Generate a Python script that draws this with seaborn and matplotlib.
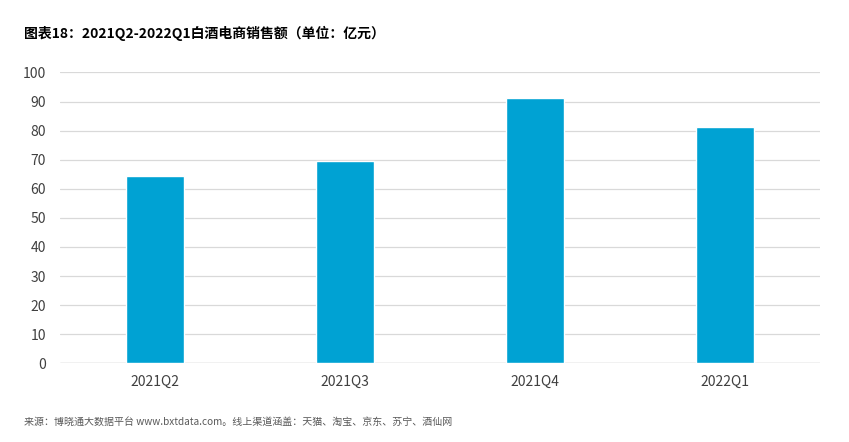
import pandas as pd
import matplotlib
matplotlib.use("Agg")
import matplotlib.pyplot as plt
import seaborn as sns

# data
quarters = ["2021Q2", "2021Q3", "2021Q4", "2022Q1"]
sales = [64.4, 69.5, 91.2, 81.3]
y_ticks = [0, 10, 20, 30, 40, 50, 60, 70, 80, 90, 100]

title_text = "图表18：2021Q2-2022Q1白酒电商销售额（单位：亿元）"
source_text = "来源：博晓通大数据平台 www.bxtdata.com。线上渠道涵盖：天猫、淘宝、京东、苏宁、酒仙网"

df = pd.DataFrame({"quarter": quarters, "sales": sales})

sns.set_theme(style="white")
plt.rcParams["font.family"] = ["Noto Sans CJK SC", "DejaVu Sans"]

fig = plt.figure(figsize=(8.49, 4.42), dpi=100)
ax = fig.add_axes([0.0707, 0.178, 0.895, 0.658])

sns.barplot(data=df, x="quarter", y="sales", color="#00A2D3", width=0.305,
            saturation=1, ax=ax, zorder=3)

ax.set_ylim(0, 100)
ax.set_yticks(y_ticks)
ax.set_xlim(-0.5, 3.5)
ax.grid(axis="y", color="#d9d9d9", linewidth=0.9, zorder=0)
ax.set_axisbelow(True)
for side in ["top", "right", "left", "bottom"]:
    ax.spines[side].set_visible(False)
ax.axhline(0, color="#d0d0d0", linewidth=1.0, zorder=1)

ax.set_xlabel("")
ax.set_ylabel("")
ax.tick_params(axis="both", length=0, labelsize=10, labelcolor="#404040")
ax.tick_params(axis="y", pad=10)
ax.tick_params(axis="x", pad=8)

fig.text(0.028, 0.925, title_text, fontsize=10, fontweight="bold",
         color="#000000", ha="left", va="center")
fig.text(0.028, 0.045, source_text, fontsize=7.2, color="#595959",
         ha="left", va="center")

fig.savefig("out.png", dpi=100)
